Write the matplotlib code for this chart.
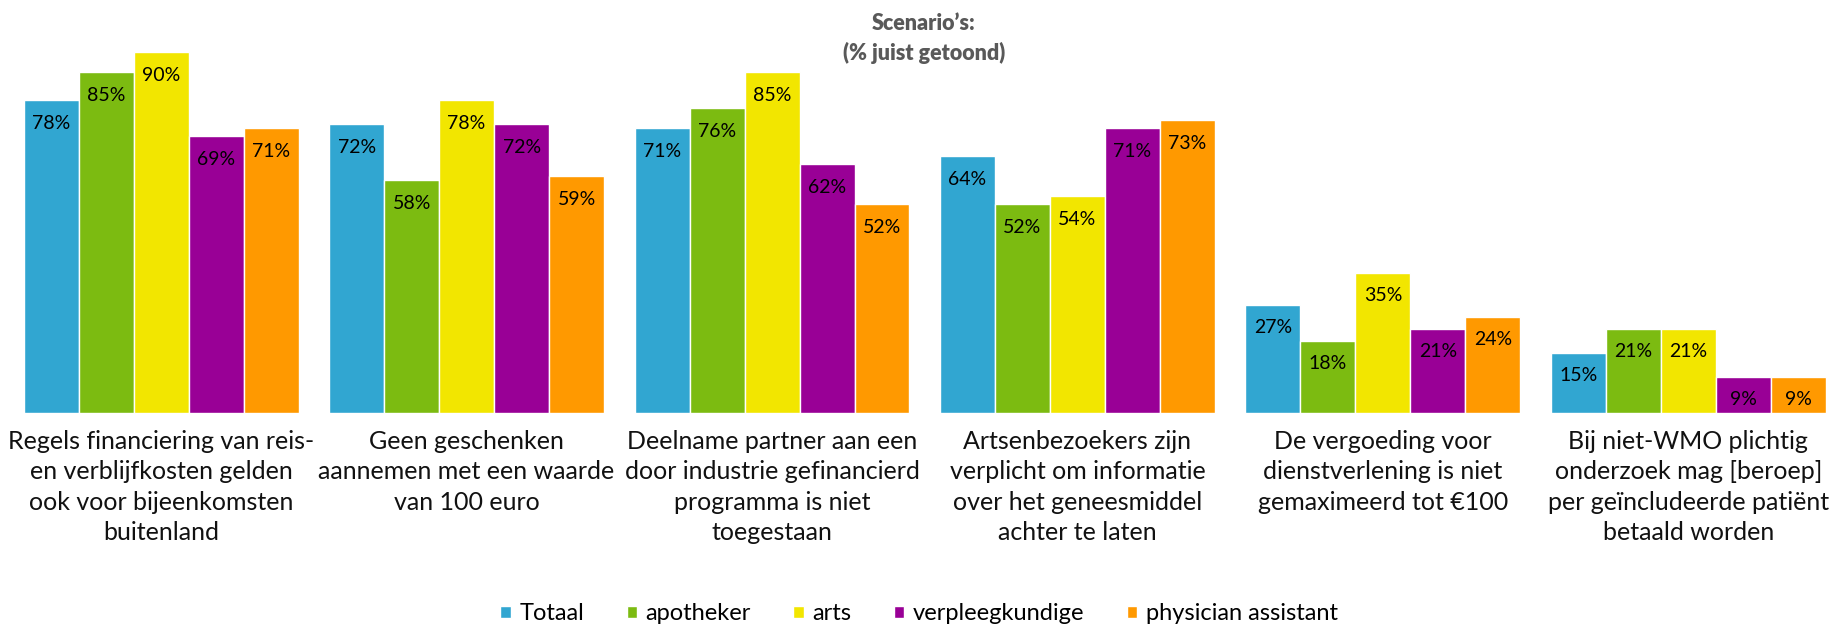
import matplotlib
matplotlib.use("Agg")
import matplotlib.pyplot as plt
import numpy as np

plt.rcParams['font.family'] = ['Lato', 'DejaVu Sans']

categories = [
    "Regels financiering van reis-\nen verblijfkosten gelden\nook voor bijeenkomsten\nbuitenland",
    "Geen geschenken\naannemen met een waarde\nvan 100 euro",
    "Deelname partner aan een\ndoor industrie gefinancierd\nprogramma is niet\ntoegestaan",
    "Artsenbezoekers zijn\nverplicht om informatie\nover het geneesmiddel\nachter te laten",
    "De vergoeding voor\ndienstverlening is niet\ngemaximeerd tot €100",
    "Bij niet-WMO plichtig\nonderzoek mag [beroep]\nper geïncludeerde patiënt\nbetaald worden",
]
series_names = ["Totaal", "apotheker", "arts", "verpleegkundige", "physician assistant"]
totaal = [78, 72, 71, 64, 27, 15]
apotheker = [85, 58, 76, 52, 18, 21]
arts = [90, 78, 85, 54, 35, 21]
verpleegkundige = [69, 72, 62, 71, 21, 9]
physician_assistant = [71, 59, 52, 73, 24, 9]
colors = ["#31A6D1", "#7CBB11", "#F2E600", "#990096", "#FF9900"]

series = [totaal, apotheker, arts, verpleegkundige, physician_assistant]

fig = plt.figure(figsize=(18.45, 6.28), dpi=100)
ax = fig.add_axes([8.5 / 1845, (628 - 413) / 628, (1841 - 8.5) / 1845, (413 - 12) / 628])

x = np.arange(len(categories))
w = 0.18
for i, (vals, name, c) in enumerate(zip(series, series_names, colors)):
    pos = x + (i - 2) * w
    bars = ax.bar(pos, vals, width=w, color=c, edgecolor="white", linewidth=1, label=name)
    for b, v in zip(bars, vals):
        ax.annotate(f"{v}%", (b.get_x() + b.get_width() / 2, v), xytext=(0, -23),
                    textcoords="offset pixels", ha="center", va="center",
                    fontsize=14, color="#000000")

ax.set_xlim(-0.5, 5.5)
ax.set_ylim(0, 100)
ax.set_yticks([])
ax.set_xticks(x)
ax.set_xticklabels(categories, fontsize=18, color="#111111", linespacing=1.4)
ax.tick_params(axis="x", length=0, pad=12)
for s in ax.spines.values():
    s.set_visible(False)

fig.text(924 / 1845, 1 - 24 / 628, "Scenario’s:", ha="center", va="center",
         fontsize=15.5, fontweight="heavy", color="#595959")
fig.text(924 / 1845, 1 - 53 / 628, "(% juist getoond)", ha="center", va="center",
         fontsize=15.5, fontweight="heavy", color="#595959")

leg = fig.legend(loc="center", bbox_to_anchor=(919 / 1845, 1 - 614 / 628), ncol=5,
                 frameon=False, fontsize=17, handlelength=0.45, handleheight=0.45,
                 handletextpad=0.35, columnspacing=1.8)

fig.savefig("out.png", dpi=100)
